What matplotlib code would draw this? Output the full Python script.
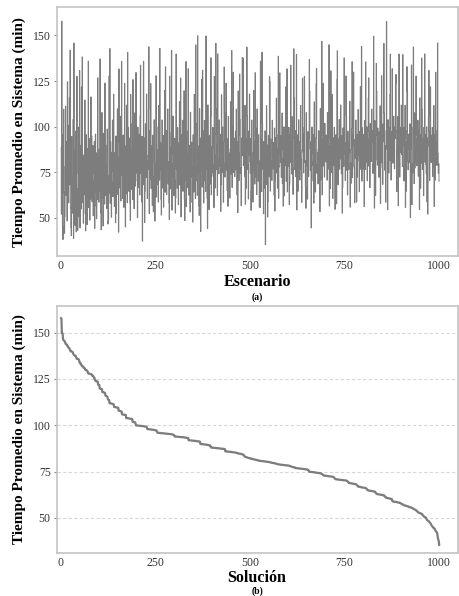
import matplotlib

matplotlib.use("Agg")
import matplotlib.pyplot as plt
import numpy as np


tiempo_escenario = [
    88.4, 52.1, 157.8, 95.6, 45.3, 38.2, 72.7, 109.5, 64.2, 41.6, 50.8, 78.3, 111.2, 62.5, 70.1, 91.7, 48.4, 124.6, 66.9, 100.8,
    58.3, 75.6, 115.7, 68.2, 141.9, 55.4, 44.8, 40.3, 94.6, 63.1, 71.8, 52.6, 103.9, 38.7, 145.8, 60.5, 87.2, 45.9, 69.4, 97.6,
    42.4, 74.3, 127.6, 56.8, 43.2, 66.1, 50.7, 99.8, 61.5, 130.8, 44.6, 89.5, 70.2, 54.9, 121.7, 65.3, 138.2, 58.6, 73.4, 47.1,
    84.5, 62.7, 68.8, 114.6, 52.3, 42.9, 95.7, 57.2, 71.6, 46.4, 87.9, 64.8, 135.9, 55.7, 93.6, 67.2, 48.8, 81.9, 60.4, 116.3,
    66.3, 94.8, 58.9, 74.1, 89.7, 51.2, 70.6, 62.1, 91.8, 44.3, 56.7, 95.9, 64.4, 73.7, 49.6, 85.8, 60.2, 126.8, 69.3, 83.4,
    58.7, 87.6, 64.9, 137.1, 72.4, 52.8, 43.5, 66.7, 107.8, 60.9, 74.5, 45.6, 96.3, 70.8, 82.2, 57.6, 123.9, 62.3, 89.9, 68.6,
    78.4, 55.2, 98.7, 67.5, 46.7, 48.2, 73.3, 127.8, 63.6, 142.8, 58.1, 91.6, 71.3, 50.4, 85.9, 75.8, 103.6, 61.7, 69.9, 117.8,
    70.5, 56.3, 85.7, 65.8, 47.4, 94.9, 52.5, 74.9, 68.3, 109.8, 62.9, 83.2, 42.2, 131.6, 91.4, 66.5, 72.8, 105.7, 59.3, 81.2,
    135.8, 73.6, 87.8, 60.7, 95.4, 70.3, 55.8, 84.3, 123.7, 67.8, 45.1, 89.4, 63.3, 111.8, 75.2, 58.4, 140.7, 69.7, 99.6, 64.6,
    80.6, 93.7, 58.2, 48.7, 117.6, 65.6, 87.3, 71.2, 101.7, 60.1, 125.8, 73.9, 91.9, 55.1, 79.4, 107.6, 67.4, 85.5, 129.7, 74.7,
    91.8, 70.4, 50.2, 99.7, 66.8, 87.6, 78.9, 95.8, 62.6, 105.9, 133.7, 74.3, 89.6, 58.8, 94.7, 37.3, 85.6, 77.4, 135.8, 68.2,
    93.8, 47.5, 64.7, 101.6, 87.7, 72.3, 117.9, 84.2, 60.6, 81.4, 76.7, 109.6, 143.8, 52.4, 97.8, 70.9, 82.5, 123.6, 66.2, 89.7,
    78.6, 56.9, 95.3, 72.6, 53.4, 64.3, 103.8, 80.2, 48.3, 79.6, 74.8, 127.9, 61.4, 99.9, 78.1, 68.4, 87.4, 58.7, 111.6, 82.8,
    70.7, 142.9, 76.2, 91.3, 60.3, 51.6, 74.6, 103.7, 66.4, 81.8, 95.2, 55.9, 77.3, 78.8, 119.8, 64.1, 132.8, 72.1, 97.9, 62.8,
    85.7, 76.4, 109.7, 68.7, 80.8, 58.3, 49.2, 127.7, 74.2, 88.2, 65.9, 96.8, 141.8, 54.3, 79.9, 72.9, 105.8, 84.6, 62.2, 78.5,
    93.6, 70.6, 52.7, 60.8, 139.8, 76.9, 77.8, 66.3, 99.5, 80.4, 57.3, 91.2, 74.4, 113.8, 68.1, 85.4, 126.7, 50.6, 95.6, 82.3,
    72.2, 103.5, 64.6, 87.5, 76.3, 119.7, 60.2, 48.6, 80.7, 70.7, 135.7, 56.2, 97.7, 74.6, 85.3, 66.6, 131.8, 78.2, 62.4, 89.8,
    68.9, 53.3, 107.9, 58.5, 76.6, 91.5, 72.5, 79.2, 47.7, 95.5, 80.1, 64.2, 117.7, 74.1, 87.1, 60.6, 144.8, 101.8, 70.4, 78.7,
    62.4, 149.8, 74.7, 89.3, 56.6, 51.4, 109.9, 68.5, 80.3, 42.6, 93.9, 76.1, 125.9, 66.9, 130.9, 72.2, 97.6, 58.2, 82.7, 103.4,
    70.3, 87.9, 64.5, 149.7, 76.8, 81.3, 60.7, 44.2, 111.9, 72.6, 85.2, 54.6, 95.1, 78.4, 68.6, 105.6, 137.8, 62.7, 89.1, 74.8,
    87.8, 99.6, 72.8, 79.3, 55.6, 127.5, 84.7, 66.4, 95.9, 145.7, 109.8, 76.5, 89.5, 62.3, 139.9, 82.1, 81.6, 74.2, 103.7, 85.9,
    78.3, 95.7, 53.6, 68.4, 117.5, 77.2, 74.8, 99.8, 82.9, 58.6, 91.7, 132.7, 107.7, 72.4, 79.8, 80.6, 123.8, 76.3, 93.6, 64.9,
    89.6, 56.4, 105.6, 70.8, 85.6, 81.7, 60.9, 87.8, 113.7, 78.6, 73.9, 141.7, 66.7, 99.7, 80.5, 129.8, 74.9, 93.8, 85.2, 72.7,
    84.8, 97.5, 76.4, 109.6, 79.7, 62.6, 91.8, 52.9, 119.6, 85.7, 70.5, 95.4, 128.8, 103.9, 74.3, 77.6, 56.8, 93.7, 84.1, 137.9,
    85.5, 137.6, 78.7, 99.4, 81.8, 72.9, 111.7, 57.5, 93.4, 66.2, 87.5, 143.6, 105.9, 76.6, 79.1, 60.4, 97.6, 84.4, 117.9, 80.8,
    74.5, 93.5, 54.2, 64.8, 103.6, 80.9, 77.4, 58.7, 85.8, 119.9, 76.2, 91.6, 68.6, 129.6, 99.3, 72.5, 83.8, 62.8, 109.7, 80.3,
    85.4, 70.2, 95.6, 78.5, 56.1, 81.2, 55.7, 135.9, 74.8, 93.3, 64.5, 140.8, 101.9, 76.8, 79.6, 52.3, 91.9, 80.2, 66.4, 97.7,
    35.4, 84.6, 76.7, 111.5, 68.3, 89.9, 50.5, 58.9, 95.2, 75.8, 72.6, 127.4, 124.7, 64.7, 93.2, 78.3, 81.4, 70.6, 103.5, 84.2,
    76.9, 91.3, 79.5, 62.5, 99.2, 53.8, 70.4, 93.9, 84.5, 115.6, 74.6, 87.7, 66.3, 95.3, 138.6, 60.8, 77.9, 78.1, 129.5, 85.6,
    80.5, 95.1, 72.3, 87.3, 107.5, 68.8, 82.6, 56.5, 76.4, 99.9, 62.1, 85.3, 93.1, 78.9, 121.8, 70.1, 79.2, 131.7, 64.3, 97.4,
    89.8, 78.2, 99.7, 57.4, 68.5, 95.8, 80.6, 133.7, 80.8, 91.4, 74.1, 105.5, 77.3, 62.9, 93.6, 142.7, 115.8, 76.5, 87.6, 97.9,
    72.7, 89.3, 139.6, 54.4, 78.6, 95.5, 64.6, 79.7, 103.8, 80.2, 91.9, 70.8, 85.7, 111.6, 76.9, 82.3, 58.5, 87.2, 126.6, 99.5,
    85.9, 74.7, 95.9, 127.6, 80.4, 81.5, 66.8, 55.3, 107.7, 78.4, 91.2, 60.3, 97.3, 77.7, 72.8, 93.5, 136.8, 119.5, 87.9, 76.2,
    91.7, 44.6, 85.1, 99.8, 78.8, 80.9, 70.3, 95.7, 58.1, 113.6, 76.4, 87.4, 64.2, 93.8, 123.5, 131.9, 74.5, 79.4, 85.8, 68.7,
    87.7, 97.8, 76.3, 91.6, 53.5, 109.9, 70.9, 78.2, 95.3, 146.8, 62.7, 93.4, 81.1, 123.8, 78.5, 89.2, 72.4, 101.8, 84.9, 91.5,
    80.7, 95.4, 85.2, 70.7, 107.8, 79.1, 76.8, 93.3, 144.9, 56.6, 89.7, 66.1, 97.2, 130.6, 82.1, 74.9, 117.7, 85.8, 60.7, 93.9,
    85.3, 78.8, 99.6, 80.3, 54.7, 87.3, 95.6, 72.5, 57.8, 125.7, 141.6, 91.6, 68.2, 93.2, 77.5, 103.9, 76.7, 87.8, 82.4, 111.9,
    89.4, 74.2, 95.1, 52.6, 66.7, 99.3, 81.9, 78.3, 137.7, 85.1, 91.3, 70.6, 79.8, 127.8, 105.8, 76.1, 87.1, 62.6, 97.5, 84.8,
    76.6, 91.8, 85.6, 113.9, 55.9, 80.1, 68.9, 87.5, 99.1, 135.6, 72.1, 95.8, 89.8, 129.9, 78.6, 77.2, 58.3, 93.1, 82.8, 103.6,
    87.6, 58.7, 95.5, 72.4, 81.3, 109.4, 84.3, 91.1, 64.4, 97.3, 76.6, 121.9, 78.7, 93.6, 143.9, 70.2, 99.4, 87.9, 76.8, 91.9,
    95.7, 56.2, 103.4, 89.9, 76.5, 135.5, 80.6, 85.7, 99.9, 70.4, 93.3, 78.4, 115.5, 126.8, 97.4, 89.1, 66.6, 101.7, 82.7, 93.7,
    80.9, 109.6, 91.4, 97.9, 74.4, 79.5, 149.6, 93.8, 55.4, 103.3, 89.4, 62.4, 95.2, 134.7, 119.6, 81.7, 78.9, 99.2, 87.4, 93.1,
    72.3, 97.2, 89.8, 111.4, 57.9, 93.9, 80.3, 127.9, 95.1, 77.6, 68.4, 101.5, 91.8, 145.6, 107.4, 76.2, 82.4, 89.6, 58.6, 97.8,
    157.6, 87.8, 95.9, 54.5, 103.8, 91.6, 74.7, 99.3, 81.5, 117.6, 139.7, 93.7, 70.8, 97.4, 79.9, 131.8, 84.6, 95.4, 80.2, 105.7,
    89.2, 76.9, 99.8, 93.5, 123.7, 128.6, 97.8, 64.5, 82.9, 87.3, 105.6, 56.7, 95.7, 139.8, 80.7, 72.4, 99.7, 85.9, 93.3, 111.8,
    84.7, 95.3, 78.1, 139.5, 89.8, 99.6, 70.3, 78.6, 93.6, 111.7, 55.8, 91.5, 64.7, 97.7, 132.9, 119.4, 81.2, 76.4, 95.9, 87.7,
    91.3, 80.5, 101.6, 50.3, 87.6, 95.9, 133.8, 57.3, 79.6, 74.7, 99.5, 143.7, 93.9, 68.8, 107.6, 77.4, 80.8, 95.2, 127.7, 89.6,
    78.6, 93.7, 85.4, 103.5, 72.9, 82.2, 97.9, 54.6, 115.8, 87.6, 66.3, 95.7, 80.1, 137.6, 109.5, 76.6, 93.4, 87.9, 62.2, 99.7,
    87.4, 139.9, 80.6, 95.5, 79.3, 74.2, 99.9, 58.8, 93.8, 52.1, 89.5, 105.7, 130.8, 97.6, 70.5, 81.6, 121.8, 87.3, 80.4, 95.3,
    85.6, 99.6, 72.7, 93.6, 81.9, 111.6, 56.3, 95.5, 70.6, 87.9, 129.8, 84.8, 91.7, 78.8, 97.9, 145.9, 85.3, 74.4, 79.7, 70.2,
]

X_TICKS = [0, 250, 500, 750, 1000]
Y_TICKS = [50, 75, 100, 125, 150]
Y_LABEL = "Tiempo Promedio en Sistema (min)"

LINE_COLOR = "#7d7d7d"
SPINE_COLOR = "#c4c4c4"
SERIF = ["Liberation Serif", "DejaVu Serif"]


def style_axes(ax, grid: bool) -> None:
    ax.set_xlim(-10, 1050)
    ax.set_xticks(X_TICKS)
    ax.set_yticks(Y_TICKS)
    for spine in ax.spines.values():
        spine.set_color(SPINE_COLOR)
        spine.set_linewidth(1.2)
    ax.tick_params(axis="y", length=2.5, width=0.8, color="#888888", pad=2)
    ax.tick_params(axis="x", length=0, pad=3)
    for label in ax.get_xticklabels() + ax.get_yticklabels():
        label.set_fontfamily(SERIF)
        label.set_fontsize(8.5)
        label.set_color("#333333")
    if grid:
        ax.grid(axis="y", color="#d8d8d8", linestyle=(0, (3, 2)), linewidth=0.8)
        ax.set_axisbelow(True)
    ax.set_ylabel(Y_LABEL, fontfamily=SERIF, fontweight="bold", fontsize=11, labelpad=5)


def main() -> None:
    valores = np.array(tiempo_escenario, dtype=float)
    escenario = np.arange(1, len(valores) + 1)
    ordenados = np.sort(valores)[::-1]

    fig = plt.figure(figsize=(4.59, 5.96), dpi=100)
    ax_a = fig.add_axes([0.124, 0.570, 0.874, 0.418])
    ax_b = fig.add_axes([0.124, 0.072, 0.874, 0.415])

    ax_a.plot(escenario, valores, color=LINE_COLOR, linewidth=0.7, drawstyle="steps-mid")
    ax_a.set_ylim(29, 165.5)
    style_axes(ax_a, grid=False)

    ax_b.plot(escenario, ordenados, color=LINE_COLOR, linewidth=1.6)
    ax_b.set_ylim(31, 164.5)
    style_axes(ax_b, grid=True)

    fig.text(0.56, 1 - 282 / 596, "Escenario", ha="center", va="center",
             fontfamily=SERIF, fontweight="bold", fontsize=11.5)
    fig.text(0.56, 1 - 297 / 596, "(a)", ha="center", va="center",
             fontfamily=SERIF, fontweight="bold", fontsize=7)
    fig.text(0.56, 1 - 578 / 596, "Solución", ha="center", va="center",
             fontfamily=SERIF, fontweight="bold", fontsize=11.5)
    fig.text(0.56, 1 - 591 / 596, "(b)", ha="center", va="center",
             fontfamily=SERIF, fontweight="bold", fontsize=7)

    fig.savefig("out.png", dpi=100)
    plt.close(fig)


if __name__ == "__main__":
    main()
